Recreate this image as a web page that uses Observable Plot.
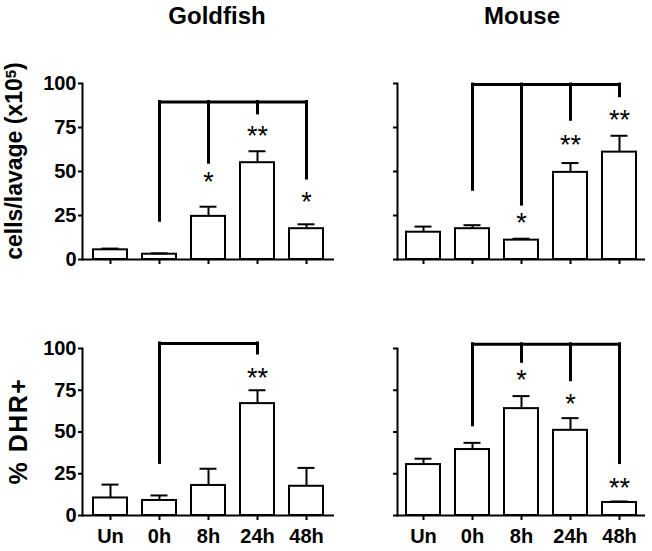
<!DOCTYPE html>
<html><head><meta charset="utf-8">
<script src="https://cdn.jsdelivr.net/npm/d3@7"></script>
<script src="https://cdn.jsdelivr.net/npm/@observablehq/plot@0.6"></script>
<style>
html,body{margin:0;padding:0;background:#fff;}
#root{position:relative;width:652px;height:551px;font-family:"Liberation Sans",Arial,sans-serif;color:#000;}
.title{position:absolute;top:4px;font-weight:bold;font-size:24px;line-height:24px;transform:translateX(-50%);white-space:nowrap;}
.panel{position:absolute;}
#ylabs{position:absolute;left:0;top:0;}
</style>
</head><body>
<div id="root">
  <div class="title" style="left:217px">Goldfish</div>
  <div class="title" style="left:522px">Mouse</div>
  <svg id="ylabs" width="40" height="551" font-family="Liberation Sans, Arial, sans-serif" font-weight="bold" fill="black">
    <text transform="translate(21.5,161) rotate(-90)" text-anchor="middle" font-size="23">cells/lavage (x10<tspan font-size="15" dy="-6">5</tspan><tspan dy="6">)</tspan></text>
    <text transform="translate(27,431) rotate(-90)" text-anchor="middle" font-size="25" letter-spacing="1.5">% DHR+</text>
  </svg>
</div>
<script>
const groups = ["Un", "0h", "8h", "24h", "48h"];
const yTicks = [0, 25, 50, 75, 100];

const goldfishCells = [5.5, 3, 24.5, 55, 17.5];
const goldfishCellsErr = [0.7, 0.5, 5.5, 6.5, 2.5];
const mouseCells = [15.5, 17.5, 11, 49.5, 61];
const mouseCellsErr = [3.2, 2, 0.8, 5.3, 9.3];
const goldfishDHR = [10.5, 9, 18, 67, 17.5];
const goldfishDHRErr = [8, 3, 10, 8, 11];
const mouseDHR = [30.5, 39.5, 64, 51, 7.8];
const mouseDHRErr = [3.5, 4, 7.5, 7.3, 0.6];

// significance brackets (values in data units): comparisons against 0h
const goldfishCellsSigGroups = ["8h", "24h", "48h"];
const goldfishCellsSigStars = ["*", "**", "*"];
const goldfishCellsSigLevel = 89.5;
const goldfishCellsSigRefEnd = 22;
const goldfishCellsSigEnds = [55, 83, 46];
const goldfishCellsStarY = [47.7, 74.2, 36.4];

const mouseCellsSigGroups = ["8h", "24h", "48h"];
const mouseCellsSigStars = ["*", "**", "**"];
const mouseCellsSigLevel = 99.4;
const mouseCellsSigRefEnd = 39.6;
const mouseCellsSigEnds = [31.2, 79.4, 92.8];
const mouseCellsStarY = [24.4, 68.6, 83.1];

const goldfishDHRSigGroups = ["24h"];
const goldfishDHRSigStars = ["**"];
const goldfishDHRSigLevel = 103;
const goldfishDHRSigRefEnd = 31.5;
const goldfishDHRSigEnds = [97];
const goldfishDHRStarY = [86.4];

const mouseDHRSigGroups = ["8h", "24h", "48h"];
const mouseDHRSigStars = ["*", "*", "**"];
const mouseDHRSigLevel = 102.5;
const mouseDHRSigRefEnd = 54;
const mouseDHRSigEnds = [92, 81, 31.4];
const mouseDHRStarY = [85, 70.8, 20.5];

const refGroup = "0h";

function makePanel(values, errs, sig, o) {
  const data = groups.map((g, i) => ({g, v: values[i], e: errs[i]}));
  const drops = [{g: refGroup, end: sig.refEnd}].concat(sig.groups.map((g, i) => ({g, end: sig.ends[i]})));
  const starData = sig.groups.map((g, i) => ({g, s: sig.stars[i], y: sig.starY[i]}));
  const lastGroup = sig.groups[sig.groups.length - 1];
  return Plot.plot({
    width: o.w, height: o.h,
    marginLeft: o.ml, marginRight: o.mr, marginTop: o.mt, marginBottom: o.mb,
    style: {fontFamily: "Liberation Sans, Arial, sans-serif", background: "transparent", overflow: "visible", color: "black"},
    x: {type: "band", domain: groups, paddingInner: 0.306, paddingOuter: o.po},
    y: {domain: [0, 100]},
    marks: [
      Plot.barY(data, {x: "g", y: "v", fill: "white", stroke: "black", strokeWidth: 2}),
      Plot.ruleX(data, {x: "g", y1: "v", y2: d => d.v + d.e, stroke: "black", strokeWidth: 2}),
      Plot.tickY(data, {x: "g", y: d => d.v + d.e, stroke: "black", strokeWidth: 2, insetLeft: 8.5, insetRight: 8.5}),
      Plot.ruleY([0], {stroke: "black", strokeWidth: 2}),
      Plot.frame({anchor: "left", stroke: "black", strokeWidth: 2}),
      Plot.axisY({ticks: yTicks, tickSize: 4, tickPadding: 2, stroke: "black", strokeWidth: 2, fontSize: 20, fontWeight: "bold", label: null,
        tickFormat: o.yLabels ? d => String(d) : () => ""}),
      Plot.axisX({tickSize: 5, tickPadding: 8, stroke: "black", strokeWidth: 2, fontSize: 20, fontWeight: "bold", label: null,
        tickFormat: o.xLabels ? d => d : () => ""}),
      Plot.link([sig], {x1: () => refGroup, x2: () => lastGroup, y1: d => d.level, y2: d => d.level, stroke: "black", strokeWidth: 3, strokeLinecap: "square"}),
      Plot.ruleX(drops, {x: "g", y1: () => sig.level, y2: "end", stroke: "black", strokeWidth: 3, strokeLinecap: "square"}),
      Plot.text(starData, {x: "g", y: "y", text: "s", fontSize: 27, dy: 7, fill: "black"})
    ]
  });
}

const root = document.getElementById("root");
function place(svg, left, top) {
  const wrap = document.createElement("div");
  wrap.className = "panel";
  wrap.style.left = left + "px";
  wrap.style.top = top + "px";
  wrap.appendChild(svg);
  root.appendChild(wrap);
}

place(makePanel(goldfishCells, goldfishCellsErr,
  {groups: goldfishCellsSigGroups, stars: goldfishCellsSigStars, level: goldfishCellsSigLevel, refEnd: goldfishCellsSigRefEnd, ends: goldfishCellsSigEnds, starY: goldfishCellsStarY},
  {w: 340, h: 215, ml: 82, mr: 6, mt: 23, mb: 16, po: 0.224, yLabels: true, xLabels: false}), 0, 60);

place(makePanel(mouseCells, mouseCellsErr,
  {groups: mouseCellsSigGroups, stars: mouseCellsSigStars, level: mouseCellsSigLevel, refEnd: mouseCellsSigRefEnd, ends: mouseCellsSigEnds, starY: mouseCellsStarY},
  {w: 337, h: 215, ml: 82, mr: 7, mt: 23, mb: 16, po: 0.16, yLabels: false, xLabels: false}), 315, 60);

place(makePanel(goldfishDHR, goldfishDHRErr,
  {groups: goldfishDHRSigGroups, stars: goldfishDHRSigStars, level: goldfishDHRSigLevel, refEnd: goldfishDHRSigRefEnd, ends: goldfishDHRSigEnds, starY: goldfishDHRStarY},
  {w: 340, h: 231, ml: 82, mr: 6, mt: 28, mb: 36, po: 0.224, yLabels: true, xLabels: true}), 0, 320);

place(makePanel(mouseDHR, mouseDHRErr,
  {groups: mouseDHRSigGroups, stars: mouseDHRSigStars, level: mouseDHRSigLevel, refEnd: mouseDHRSigRefEnd, ends: mouseDHRSigEnds, starY: mouseDHRStarY},
  {w: 337, h: 231, ml: 82, mr: 7, mt: 28, mb: 36, po: 0.16, yLabels: false, xLabels: true}), 315, 320);
</script>
</body></html>
